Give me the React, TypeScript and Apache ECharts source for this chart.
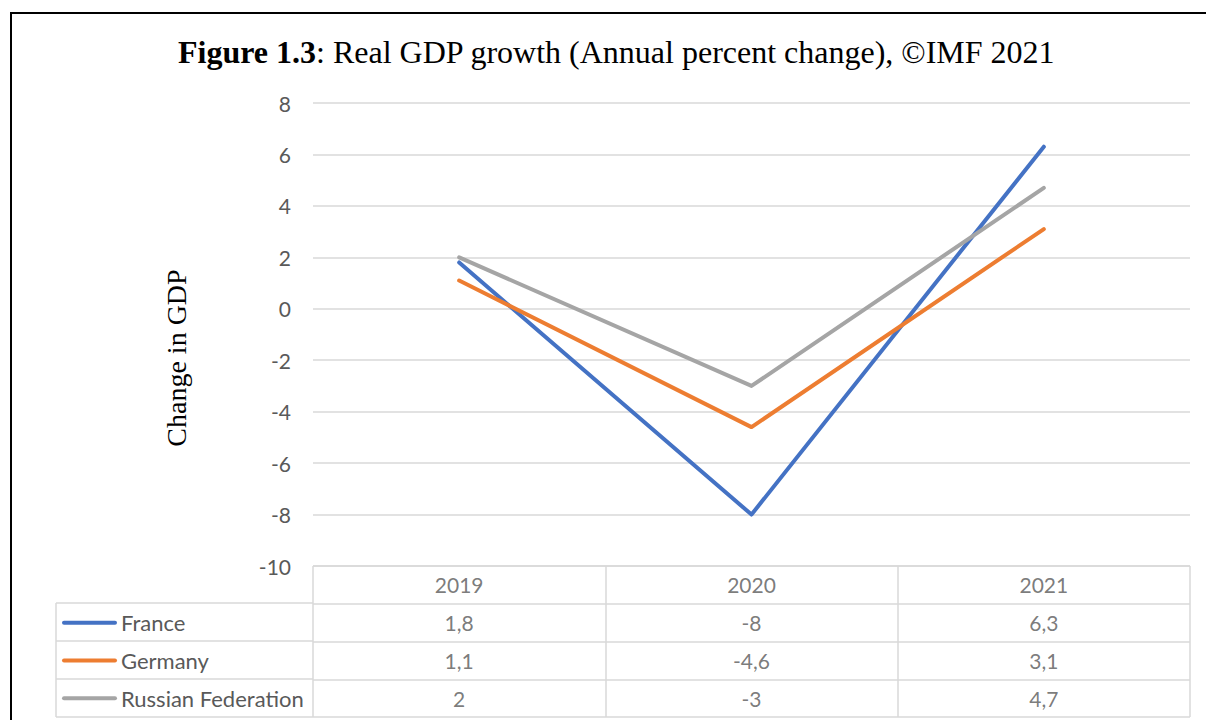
import React, { useEffect, useRef } from "react";
import * as echarts from "echarts";

const years = ["2019", "2020", "2021"];
const seriesNames = ["France", "Germany", "Russian Federation"];
const france = [1.8, -8, 6.3];
const germany = [1.1, -4.6, 3.1];
const russia = [2, -3, 4.7];
const colors = ["#4472C4", "#ED7D31", "#A5A5A5"];
const yTicks = { min: -10, max: 8, interval: 2 };
const titleBold = "Figure 1.3";
const titleRest = ": Real GDP growth (Annual percent change), ©IMF 2021";
const yAxisTitle = "Change in GDP";

const HEADER_ROW = "Year";

export default function App() {
  const ref = useRef<HTMLDivElement>(null);
  useEffect(() => {
    if (!ref.current) return;
    const chart = echarts.init(ref.current, null, { renderer: "svg" });
    const values = [france, germany, russia];
    const fmt = (v: number) => String(v).replace(".", ",");
    const tickFont = "Lato";
    const tickSize = 21;
    const gray = "#595959";
    const gridColor = "#d9d9d9";

    const rich: any = {};
    seriesNames.forEach((n, i) => {
      rich["k" + i] = {
        width: 55,
        height: 4,
        backgroundColor: colors[i],
        borderRadius: 2,
      };
    });
    rich.t = { color: gray, fontSize: 22, fontFamily: tickFont, padding: [0, 0, 0, 4] };

    const tableCells: any[] = [];
    values.forEach((arr, si) => {
      arr.forEach((v, ci) => {
        tableCells.push({ value: [years[ci], seriesNames[si]], label: fmt(v) });
      });
    });
    const headerCells = years.map((y) => ({ value: [y, HEADER_ROW], label: y }));

    const leftColLines: any[] = [];
    const rowYs = [603, 641, 679, 717];
    rowYs.forEach((y) => {
      leftColLines.push({
        type: "line",
        shape: { x1: 56, y1: y, x2: 313, y2: y },
        style: { stroke: gridColor, lineWidth: 1.5 },
      });
    });
    leftColLines.push({
      type: "line",
      shape: { x1: 56, y1: 603, x2: 56, y2: 717 },
      style: { stroke: gridColor, lineWidth: 1.5 },
    });

    chart.setOption({
      animation: false,
      backgroundColor: "#ffffff",
      title: {
        text: "{b|" + titleBold + "}" + titleRest,
        left: 173,
        top: 31,
        textStyle: {
          fontFamily: "Liberation Serif",
          fontSize: 32,
          fontWeight: "normal",
          color: "#000",
          rich: {
            b: { fontFamily: "Liberation Serif", fontSize: 32, fontWeight: "bold", color: "#000" },
          },
        },
      },
      graphic: [
        {
          type: "line",
          shape: { x1: 10, y1: 13, x2: 1206, y2: 13 },
          style: { stroke: "#000", lineWidth: 2 },
        },
        {
          type: "line",
          shape: { x1: 11, y1: 12, x2: 11, y2: 720 },
          style: { stroke: "#000", lineWidth: 2 },
        },
        {
          type: "text",
          x: 176,
          y: 358,
          rotation: Math.PI / 2,
          style: {
            text: yAxisTitle,
            fontFamily: "Liberation Serif",
            fontSize: 28,
            fill: "#000",
            align: "center",
            verticalAlign: "middle",
          },
        },
        ...leftColLines,
      ],
      grid: [
        { left: 313, right: 16, top: 103, bottom: 154 },
        { left: 313, right: 16, top: 566, bottom: 3 },
      ],
      xAxis: [
        {
          type: "category",
          data: years,
          gridIndex: 0,
          boundaryGap: true,
          axisLine: { show: false },
          axisTick: { show: false },
          axisLabel: { show: false },
          splitLine: { show: false },
        },
        {
          type: "category",
          data: years,
          gridIndex: 1,
          boundaryGap: true,
          axisLine: { show: false },
          axisTick: { show: false },
          axisLabel: { show: false },
          splitLine: { show: true, lineStyle: { color: gridColor, width: 1.5 } },
        },
      ],
      yAxis: [
        {
          type: "value",
          gridIndex: 0,
          min: yTicks.min,
          max: yTicks.max,
          interval: yTicks.interval,
          axisLine: { show: false },
          axisTick: { show: false },
          axisLabel: { color: gray, fontSize: tickSize, fontFamily: tickFont, margin: 22 },
          splitLine: { lineStyle: { color: gridColor, width: 1.5 } },
        },
        {
          type: "category",
          gridIndex: 1,
          inverse: true,
          data: [HEADER_ROW, ...seriesNames],
          axisLine: { show: false },
          axisTick: { show: false },
          splitLine: { show: true, lineStyle: { color: gridColor, width: 1.5 } },
          axisLabel: {
            show: true,
            align: "left",
            margin: 251,
            formatter: (name: string) => {
              const i = seriesNames.indexOf(name);
              if (i < 0) return "";
              return "{k" + i + "|}{t|" + name + "}";
            },
            rich,
          },
        },
      ],
      series: [
        ...values.map((arr, i) => ({
          name: seriesNames[i],
          type: "line",
          xAxisIndex: 0,
          yAxisIndex: 0,
          data: arr,
          showSymbol: false,
          symbol: "none",
          lineStyle: { color: colors[i], width: 4, cap: "round", join: "round" },
          itemStyle: { color: colors[i] },
        })),
        {
          type: "scatter",
          xAxisIndex: 1,
          yAxisIndex: 1,
          symbolSize: 1,
          itemStyle: { color: "rgba(0,0,0,0)" },
          data: [...headerCells, ...tableCells],
          label: {
            show: true,
            position: "inside",
            color: gray,
            fontSize: tickSize,
            fontFamily: tickFont,
            formatter: (p: any) => p.data.label,
          },
        },
      ],
    });
    return () => chart.dispose();
  }, []);
  return (
    <div
      ref={ref}
      style={{ position: "absolute", left: 0, top: 0, width: 1206, height: 720 }}
    />
  );
}
